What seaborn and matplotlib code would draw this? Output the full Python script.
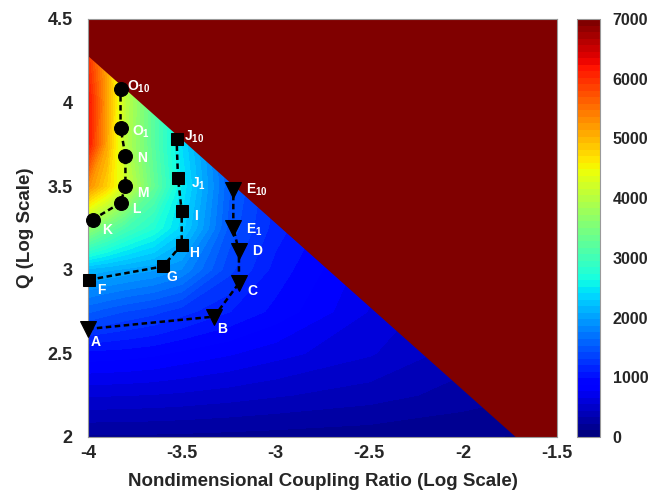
import numpy as np
import pandas as pd
import seaborn as sns
import matplotlib.pyplot as plt

# grid of the plotted field (rows follow q_nodes, columns follow ratio_nodes)
ratio_nodes = [-4.0, -3.9, -3.8, -3.65, -3.5, -3.25, -3.0, -2.5, -2.0, -1.5]
q_nodes = [2.0, 2.25, 2.5, 2.75, 3.0, 3.25, 3.5, 3.75, 4.0, 4.25, 4.5]
field = [
    [200, 200, 200, 195, 190, 180, 170, 150, 120, 90],
    [560, 555, 550, 540, 525, 490, 450, 380, 280, 200],
    [950, 940, 930, 900, 850, 780, 700, 560, 380, 260],
    [1550, 1480, 1420, 1350, 1250, 1100, 950, 650, 430, 300],
    [2150, 2100, 2050, 1980, 1850, 1350, 1050, 700, 460, 320],
    [3700, 3350, 3050, 2750, 2350, 1500, 1150, 750, 480, 330],
    [5300, 4800, 4200, 3300, 2500, 1550, 1200, 780, 500, 340],
    [6200, 5100, 4000, 3200, 2400, 1500, 1200, 800, 510, 350],
    [6250, 5150, 4050, 3200, 2400, 1500, 1200, 800, 510, 350],
    [6000, 5100, 4000, 3150, 2350, 1450, 1150, 780, 500, 340],
    [5800, 5000, 3950, 3100, 2300, 1400, 1100, 760, 490, 330],
]

# edge of the saturated (> 7000) region
edge_x = [-4.0, -1.72, -1.5]
edge_y = [4.28, 2.0, 2.0]

# design paths
circle_x = [-3.975, -3.826, -3.80, -3.80, -3.826, -3.826]
circle_y = [3.30, 3.40, 3.50, 3.68, 3.85, 4.08]
circle_lab = ["K", "L", "M", "N", "O$_1$", "O$_{10}$"]

square_x = [-3.995, -3.60, -3.50, -3.50, -3.52, -3.527]
square_y = [2.94, 3.02, 3.15, 3.35, 3.55, 3.78]
square_lab = ["F", "G", "H", "I", "J$_1$", "J$_{10}$"]

tri_x = [-4.0, -3.327, -3.195, -3.195, -3.225, -3.225]
tri_y = [2.646, 2.72, 2.92, 3.11, 3.25, 3.48]
tri_lab = ["A", "B", "C", "D", "E$_1$", "E$_{10}$"]

# label offsets in pixels (dx, dy)
offsets = {
    "K": (10, -10), "L": (12, -6), "M": (12, -7), "N": (12, -2),
    "O$_1$": (11, -4), "O$_{10}$": (6, 2),
    "F": (8, -10), "G": (3, -11), "H": (7, -8), "I": (12, -5),
    "J$_1$": (13, -6), "J$_{10}$": (7, 3),
    "A": (3, -13), "B": (3, -12), "C": (8, -8), "D": (13, 0),
    "E$_1$": (13, -2), "E$_{10}$": (13, 0),
}

sns.set_style("white")
plt.rcParams["font.family"] = ["Liberation Sans", "DejaVu Sans"]
plt.rcParams["font.weight"] = "bold"
plt.rcParams["mathtext.fontset"] = "custom"
plt.rcParams["mathtext.rm"] = "Liberation Sans:bold"
plt.rcParams["mathtext.it"] = "Liberation Sans:bold"
plt.rcParams["mathtext.bf"] = "Liberation Sans:bold"
plt.rcParams["mathtext.default"] = "rm"

fig = plt.figure(figsize=(6.51, 4.96), dpi=100)
ax = fig.add_axes([0.135, 0.119, 0.7206, 0.8427])
cax = fig.add_axes([0.886, 0.119, 0.036, 0.8427])

cmap = plt.get_cmap("jet", 64)
levels = np.linspace(0, 7000, 65)
cf = ax.contourf(ratio_nodes, q_nodes, np.array(field), levels=levels, cmap=cmap)
ax.fill_between(edge_x, edge_y, 4.5, color=cmap(1.0), lw=0)

paths = [
    (tri_x, tri_y, tri_lab, "v", 11),
    (square_x, square_y, square_lab, "s", 8.5),
    (circle_x, circle_y, circle_lab, "o", 10),
]
for xs, ys, labs, mk, ms in paths:
    sns.lineplot(x=xs, y=ys, sort=False, estimator=None, ax=ax, color="k",
                 linestyle=(0, (2.2, 1.4)), linewidth=1.8, marker=mk,
                 markersize=ms, markeredgecolor="k", markerfacecolor="k",
                 clip_on=False, zorder=5)
    for x, y, lab in zip(xs, ys, labs):
        ax.annotate(lab, (x, y), xytext=offsets[lab], textcoords="offset pixels",
                    ha="left", va="center", color="white", fontsize=10,
                    fontweight="bold", zorder=6)

ax.set_xlim(-4, -1.5)
ax.set_ylim(2, 4.5)
ax.set_xticks([-4, -3.5, -3, -2.5, -2, -1.5])
ax.set_xticklabels(["-4", "-3.5", "-3", "-2.5", "-2", "-1.5"])
ax.set_yticks([2, 2.5, 3, 3.5, 4, 4.5])
ax.set_yticklabels(["2", "2.5", "3", "3.5", "4", "4.5"])
ax.tick_params(direction="in", length=3, width=0.6, labelsize=13)
ax.tick_params(axis="x", pad=6)
ax.tick_params(axis="y", pad=11)
for t in ax.get_xticklabels() + ax.get_yticklabels():
    t.set_fontweight("bold")
for s in ax.spines.values():
    s.set_color("#999999")
    s.set_linewidth(0.8)
ax.set_xlabel("Nondimensional Coupling Ratio (Log Scale)", fontsize=13.5,
              fontweight="bold", labelpad=8)
ax.set_ylabel("Q (Log Scale)", fontsize=13.5, fontweight="bold", labelpad=10)

cb = fig.colorbar(cf, cax=cax)
cb.set_ticks(range(0, 7001, 1000))
cb.outline.set_edgecolor("#999999")
cb.outline.set_linewidth(0.8)
cax.tick_params(direction="in", length=3, width=0.6, left=True, right=True,
                labelsize=11.5, pad=9)
for t in cax.get_yticklabels():
    t.set_fontweight("bold")

fig.savefig("out.png", dpi=100)
